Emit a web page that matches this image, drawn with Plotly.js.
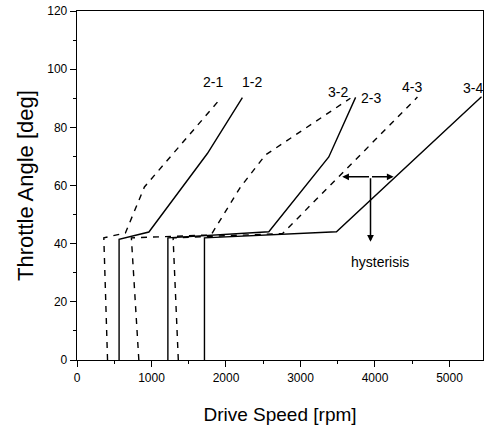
<!DOCTYPE html>
<html>
<head>
<meta charset="utf-8">
<script src="https://cdn.plot.ly/plotly-3.0.1.min.js"></script>
<style>html,body{margin:0;padding:0;background:#fff;}#chart{width:486px;height:430px;}</style>
</head>
<body>
<div id="chart"></div>
<script>
// Shift curves: drive speed [rpm] vs throttle angle [deg]
const curve21X = [410, 360, 650, 905, 1930];
const curve21Y = [0, 42, 43.7, 59.5, 90];
const curve12X = [565, 565, 965, 1750, 2220];
const curve12Y = [0, 41.5, 44, 71, 90.2];
const curve32X = [830, 730, 1800, 2195, 2530, 3670];
const curve32Y = [0, 42, 43, 59.5, 70.5, 90];
const curve23X = [1220, 1220, 2575, 3380, 3740];
const curve23Y = [0, 42, 44.1, 69.8, 90.3];
const curve43X = [1360, 1290, 2760, 4570];
const curve43Y = [0, 42, 43.5, 90.4];
const curve34X = [1711, 1711, 3483, 5430];
const curve34Y = [0, 42, 44.1, 90.5];

const labelText = ['2-1', '1-2', '3-2', '2-3', '4-3', '3-4'];
const labelX = [1832, 2352, 3503, 3940, 4503, 5315];
const labelY = [95.7, 95.7, 92.3, 90, 94, 93.4];

// hysteresis marker: horizontal span and vertical drop
const hystX = [3560, 3940, 4250];
const hystY = [63, 40.7];
const hystTextX = 4074;
const hystTextY = 33.7;

const solid = {color: '#000', width: 1.4, dash: 'solid'};
const dashed = {color: '#000', width: 1.4, dash: '6px,6px'};

function tr(x, y, line) {
  return {x: x, y: y, type: 'scatter', mode: 'lines', line: line, hoverinfo: 'skip', showlegend: false};
}

const data = [
  tr(curve21X, curve21Y, dashed),
  tr(curve12X, curve12Y, solid),
  tr(curve32X, curve32Y, dashed),
  tr(curve23X, curve23Y, solid),
  tr(curve43X, curve43Y, dashed),
  tr(curve34X, curve34Y, solid)
];

const annotations = labelText.map((t, i) => ({
  x: labelX[i], y: labelY[i], xref: 'x', yref: 'y', text: t, showarrow: false,
  font: {family: 'Arial, Liberation Sans, sans-serif', size: 14, color: '#000'}
}));

const arrowCommon = {xref: 'x', yref: 'y', axref: 'x', ayref: 'y', text: '', showarrow: true,
  arrowhead: 2, arrowsize: 0.9, arrowwidth: 1.5, arrowcolor: '#000', standoff: 0, startstandoff: 0};
annotations.push(Object.assign({}, arrowCommon, {x: hystX[0], y: hystY[0], ax: hystX[1], ay: hystY[0]}));
annotations.push(Object.assign({}, arrowCommon, {x: hystX[2], y: hystY[0], ax: hystX[1], ay: hystY[0]}));
annotations.push(Object.assign({}, arrowCommon, {x: hystX[1], y: hystY[1], ax: hystX[1], ay: hystY[0]}));
annotations.push({x: hystTextX, y: hystTextY, xref: 'x', yref: 'y', text: 'hysterisis', showarrow: false,
  font: {family: 'Arial, Liberation Sans, sans-serif', size: 14, color: '#000'}});

const axisFont = {family: 'Arial, Liberation Sans, sans-serif', size: 12, color: '#000'};

const layout = {
  width: 486, height: 430,
  margin: {l: 77, r: 3, t: 11, b: 70, pad: 0},
  paper_bgcolor: '#fff', plot_bgcolor: '#fff',
  showlegend: false,
  xaxis: {
    range: [0, 5450], tickmode: 'array', tickvals: [0, 1000, 2000, 3000, 4000, 5000],
    ticktext: ['0', '1000', '2000', '3000', '4000', '5000'],
    showgrid: false, zeroline: false, showline: true, linecolor: '#000', linewidth: 1.3, mirror: true,
    ticks: 'outside', ticklen: 6, tickwidth: 1, tickcolor: '#000', tickfont: axisFont,
    minor: {ticks: 'outside', dtick: 500, ticklen: 3, tickcolor: '#000', showgrid: false},
    title: {text: 'Drive Speed [rpm]', font: {family: 'Arial, Liberation Sans, sans-serif', size: 19, color: '#000'}, standoff: 24}
  },
  yaxis: {
    range: [0, 120], tickmode: 'array', tickvals: [0, 20, 40, 60, 80, 100, 120],
    ticktext: ['0', '20', '40', '60', '80', '100', '120'],
    showgrid: false, zeroline: false, showline: true, linecolor: '#000', linewidth: 1.3, mirror: true,
    ticks: 'outside', ticklen: 6, tickwidth: 1, tickcolor: '#000', tickfont: axisFont,
    minor: {ticks: 'outside', dtick: 10, ticklen: 3, tickcolor: '#000', showgrid: false},
    title: {text: 'Throttle Angle [deg]', font: {family: 'Arial, Liberation Sans, sans-serif', size: 22, color: '#000'}, standoff: 7}
  },
  annotations: annotations
};

Plotly.newPlot('chart', data, layout, {displayModeBar: false, staticPlot: true});
</script>
</body>
</html>
